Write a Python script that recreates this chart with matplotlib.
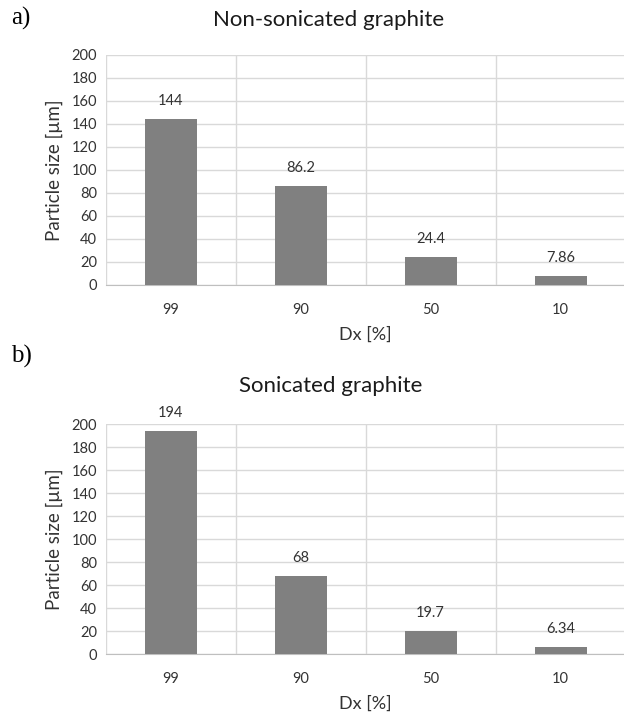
import numpy as np
import matplotlib.pyplot as plt

categories = ['99', '90', '50', '10']
non_sonicated = [144, 86.2, 24.4, 7.86]
sonicated = [194, 68, 19.7, 6.34]
non_sonicated_labels = ['144', '86.2', '24.4', '7.86']
sonicated_labels = ['194', '68', '19.7', '6.34']

plt.rcParams['font.family'] = ['Lato', 'DejaVu Sans']

fig = plt.figure(figsize=(6.24, 7.13), dpi=100)

def draw_panel(ax, values, labels):
    x = np.arange(len(categories))
    ax.bar(x, values, width=0.4, color='#808080', zorder=3)
    ax.set_xlim(-0.5, len(categories) - 0.5)
    ax.set_ylim(0, 200)
    ax.set_yticks(np.arange(0, 201, 20))
    ax.set_xticks(x)
    ax.set_xticklabels(categories)
    # vertical lines between categories
    ax.set_xticks(np.arange(-0.5, len(categories), 1), minor=True)
    ax.grid(axis='y', color='#d9d9d9', linewidth=1, zorder=0)
    ax.grid(axis='x', which='minor', color='#d9d9d9', linewidth=1, zorder=0)
    ax.tick_params(which='both', length=0, labelsize=10.5, colors='#333333')
    ax.tick_params(axis='x', pad=13)
    ax.tick_params(axis='y', pad=6)
    for s in ['top', 'right', 'left']:
        ax.spines[s].set_visible(False)
    ax.spines['bottom'].set_color('#bfbfbf')
    for xi, v, lab in zip(x, values, labels):
        ax.annotate(lab, (xi, v), xytext=(0, 8), textcoords='offset points',
                    ha='center', va='bottom', fontsize=10.5, color='#333333')
    ax.set_xlabel('Dx [%]', fontsize=13, color='#333333', labelpad=7)
    ax.set_ylabel('Particle size [µm]', fontsize=13.5, color='#333333', labelpad=6)

ax1 = fig.add_axes([0.1692, 0.6003, 0.8333, 0.3226])
draw_panel(ax1, non_sonicated, non_sonicated_labels)
ax2 = fig.add_axes([0.1692, 0.0827, 0.8333, 0.3226])
draw_panel(ax2, sonicated, sonicated_labels)

fig.text(0.527, 0.972, 'Non-sonicated graphite', fontsize=16, color='#1a1a1a',
         ha='center', va='center')
fig.text(0.530, 0.459, 'Sonicated graphite', fontsize=16, color='#1a1a1a',
         ha='center', va='center')

fig.text(0.018, 0.974, 'a)', fontsize=18, family='Liberation Serif', va='center')
fig.text(0.018, 0.500, 'b)', fontsize=18, family='Liberation Serif', va='center')

fig.savefig('out.png', dpi=100)
